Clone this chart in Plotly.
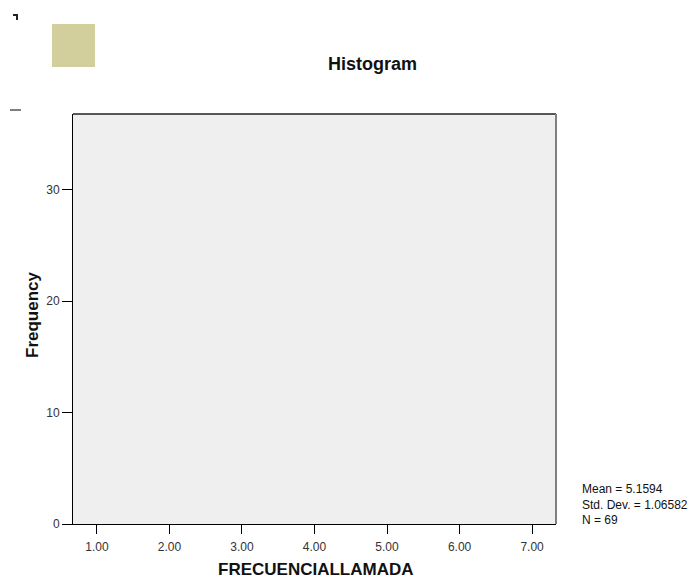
import plotly.graph_objects as go

# Data / labels
x_ticks = [1, 2, 3, 4, 5, 6, 7]
x_tick_labels = ["1.00", "2.00", "3.00", "4.00", "5.00", "6.00", "7.00"]
y_ticks = [0, 10, 20, 30]
y_tick_labels = ["0", "10", "20", "30"]
stat_mean = 5.1594
stat_sd = 1.06582
stat_n = 69
title_text = "Histogram"
x_title = "FRECUENCIALLAMADA"
y_title = "Frequency"

W, H = 692, 580
L, R, T, B = 73, 556, 114, 524  # plot area in pixels

def px(x):
    return (x - L) / (R - L)

def py(y):
    return (B - y) / (B - T)

fig = go.Figure()
fig.add_trace(go.Scatter(x=[], y=[], mode="markers", showlegend=False))

font = "Liberation Sans, Arial, sans-serif"

fig.update_layout(
    width=W, height=H,
    margin=dict(l=L, r=W - R, t=T, b=H - B, pad=0),
    paper_bgcolor="white",
    plot_bgcolor="#EFEFEF",
    showlegend=False,
    font=dict(family=font, color="black", size=12),
    xaxis=dict(
        range=[0.67, 7.33], tickvals=x_ticks, ticktext=x_tick_labels,
        showgrid=False, zeroline=False, showline=True, linecolor="black", linewidth=1,
        ticks="outside", ticklen=9, tickcolor="black", tickwidth=1,
        ticklabelstandoff=3,
        tickfont=dict(size=12, color="#333333"),
    ),
    yaxis=dict(
        range=[0, 36.8], tickvals=y_ticks, ticktext=y_tick_labels,
        showgrid=False, zeroline=False, showline=True, linecolor="black", linewidth=1,
        ticks="outside", ticklen=10, tickcolor="black", tickwidth=1,
        tickfont=dict(size=12, color="#333333"),
    ),
)

shapes = [
    dict(type="line", xref="paper", yref="paper", x0=0, x1=1, y0=1, y1=1,
         line=dict(color="#222", width=1.5)),
    dict(type="line", xref="paper", yref="paper", x0=1, x1=1, y0=0, y1=1,
         line=dict(color="#808080", width=2)),
    dict(type="rect", xref="paper", yref="paper",
         x0=px(52), x1=px(95), y0=py(67), y1=py(24),
         fillcolor="#D3CF9C", line=dict(width=0)),
    dict(type="line", xref="paper", yref="paper",
         x0=px(13), x1=px(18), y0=py(15), y1=py(15),
         line=dict(color="#222", width=2)),
    dict(type="line", xref="paper", yref="paper",
         x0=px(17), x1=px(17), y0=py(14), y1=py(20),
         line=dict(color="#222", width=2)),
    dict(type="line", xref="paper", yref="paper",
         x0=px(10), x1=px(21), y0=py(110), y1=py(110),
         line=dict(color="#555", width=1.5)),
]
fig.update_layout(shapes=shapes)

annotations = [
    dict(text="<b>" + title_text + "</b>", xref="paper", yref="paper",
         x=px(372), y=py(64), showarrow=False, xanchor="center", yanchor="middle",
         font=dict(size=18, color="#111")),
    dict(text="<b>" + x_title + "</b>", xref="paper", yref="paper",
         x=px(315.5), y=py(569), showarrow=False, xanchor="center", yanchor="middle",
         font=dict(size=17, color="#111")),
    dict(text="<b>" + y_title + "</b>", xref="paper", yref="paper",
         x=px(32), y=py(315), showarrow=False, xanchor="center", yanchor="middle",
         textangle=-90, font=dict(size=17, color="#111")),
    dict(text=f"Mean = {stat_mean:.4f}<br>Std. Dev. = {stat_sd:.5f}<br>N = {stat_n}",
         xref="paper", yref="paper", x=px(580), y=py(504.5), showarrow=False,
         xanchor="left", yanchor="middle", align="left",
         font=dict(size=12, color="#111")),
]
fig.update_layout(annotations=annotations)

fig.write_html(
    "out.html",
    config={"displayModeBar": False},
    post_script="document.body.style.margin='0';document.body.style.padding='0';document.body.style.overflow='hidden';",
)
